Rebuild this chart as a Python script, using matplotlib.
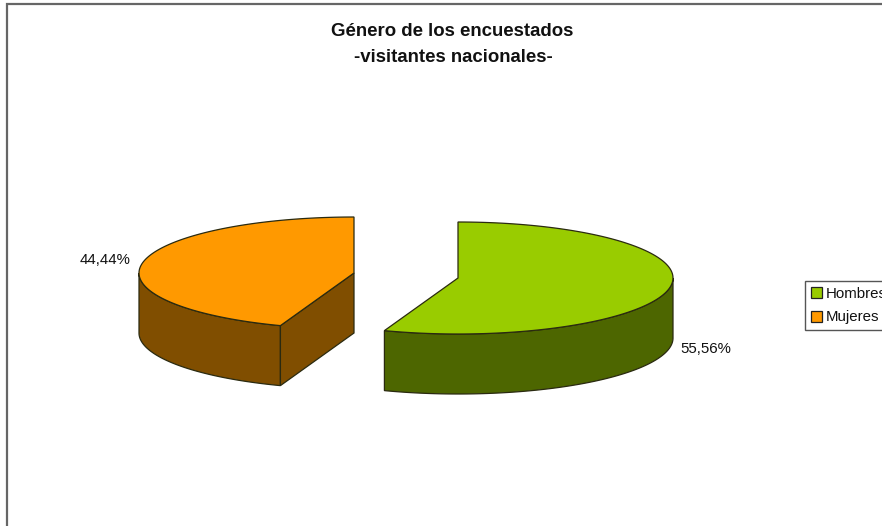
import numpy as np
import matplotlib
matplotlib.use("Agg")
import matplotlib.pyplot as plt
from matplotlib.patches import Polygon, Patch

plt.rcParams['font.family'] = ['Liberation Sans', 'DejaVu Sans']

labels = ["Hombres", "Mujeres"]
values = [55.56, 44.44]
value_text = ["55,56%", "44,44%"]
top_colors = ["#99CC00", "#FF9900"]
side_colors = ["#4D6600", "#804E00"]

# pixel layout of the 3d pie
centers = [(458, 278), (354, 273)]
a = 215
b = 56
depth = 60
edge = "#2a2a10"

fig = plt.figure(figsize=(8.82, 5.26), dpi=100)
ax = fig.add_axes([0, 0, 1, 1])
ax.set_xlim(0, 882)
ax.set_ylim(526, 0)
ax.axis("off")


def arc(cx, cy, start, end):
    t = np.radians(np.linspace(start, end, 120))
    return np.column_stack([cx + a * np.cos(t), cy - b * np.sin(t)])


start = 90
for i in range(2):
    end = start - values[i] * 3.6
    cx, cy = centers[i]

    # outer wall, only the front part of the rim shows
    rim = arc(cx, cy, min(start, 0), max(end, -180))
    wall = np.vstack([rim, (rim + [0, depth])[::-1]])
    ax.add_patch(Polygon(wall, facecolor=side_colors[i], edgecolor=edge, lw=0.9, zorder=2))

    # cut wall towards the centre on the second slice
    if i == 1:
        p = arc(cx, cy, start, start)[0]
        cut = [p, (cx, cy), (cx, cy + depth), (p[0], p[1] + depth)]
        ax.add_patch(Polygon(cut, facecolor=side_colors[i], edgecolor=edge, lw=0.9, zorder=2))

    top = np.vstack([[(cx, cy)], arc(cx, cy, start, end)])
    ax.add_patch(Polygon(top, facecolor=top_colors[i], edgecolor=edge, lw=0.9, zorder=3))
    start = end

ax.text(452, 31, "Género de los encuestados", ha="center", va="center",
        fontsize=13.4, fontweight="bold", color="#111111")
ax.text(453, 57, "-visitantes nacionales-", ha="center", va="center",
        fontsize=13.4, fontweight="bold", color="#111111")

ax.text(680, 349, value_text[0], ha="left", va="center", fontsize=10.8, color="#111111")
ax.text(80, 260, value_text[1], ha="left", va="center", fontsize=10.8, color="#111111")

# chart border, cut off at the right and bottom
ax.plot([7, 7, 882], [526, 4, 4], color="#666666", lw=1.6, solid_joinstyle="miter", clip_on=False)

handles = [Patch(facecolor=c, edgecolor="#222222", lw=0.9) for c in top_colors]
leg = ax.legend(handles, labels, loc="upper left", bbox_to_anchor=(805, 281),
                bbox_transform=ax.transData, borderaxespad=0, fontsize=10.8, frameon=True,
                fancybox=False, edgecolor="#555555", framealpha=1, handlelength=0.75,
                handleheight=0.75, handletextpad=0.25, labelspacing=0.62, borderpad=0.4)
leg.get_frame().set_linewidth(1.0)
for t in leg.get_texts():
    t.set_color("#111111")

fig.savefig("out.png", dpi=100)
